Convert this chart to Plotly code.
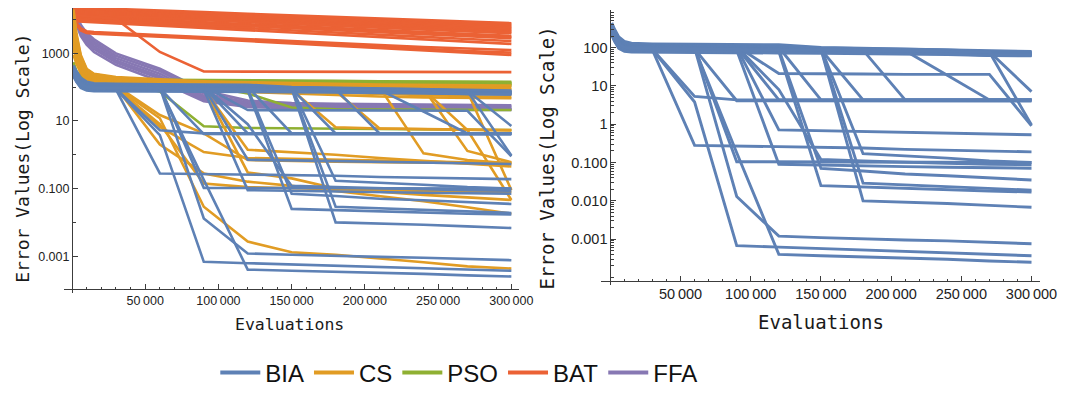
import plotly.graph_objects as go

# ---------------- data ----------------
EVALS = [1000, 3000, 6000, 10000, 15000, 30000, 60000, 90000, 120000,
         150000, 180000, 210000, 240000, 270000, 300000]

BIA_RUNS = [
    [440, 300, 190, 145, 130, 125, 122, 120, 118, 100, 95, 92, 88, 80, 79],
    [400, 270, 175, 135, 122, 118, 115, 112, 110, 98, 92, 90, 86, 78, 77],
    [360, 250, 160, 125, 115, 112, 110, 108, 105, 95, 90, 88, 84, 76, 75],
    [330, 230, 150, 118, 110, 108, 105, 103, 100, 92, 88, 85, 82, 74, 73],
    [300, 210, 140, 112, 105, 103, 100, 98, 96, 90, 86, 83, 80, 72, 71],
    [280, 195, 130, 106, 100, 98, 96, 94, 92, 88, 84, 81, 78, 70, 69],
    [260, 180, 122, 100, 95, 93, 91, 90, 88, 85, 82, 79, 76, 68, 67],
    [245, 170, 115, 95, 90, 88, 87, 86, 84, 82, 80, 77, 74, 67, 66],
    [230, 160, 108, 90, 85, 84, 83, 82, 80, 78, 76, 74, 72, 65, 64],
    [220, 150, 100, 85, 80, 79, 78, 77, 76, 75, 73, 71, 69, 63, 62],
    [210, 145, 95, 80, 76, 75, 74, 73, 72, 71, 70, 68, 66, 62, 61],
    [250, 165, 110, 88, 82, 80, 79, 78, 77, 76, 74, 72, 70, 64, 63],
    [300, 200, 130, 105, 98, 90, 5.3, 4.3, 4.3, 4.2, 4.2, 4.2, 4.2, 4.2, 4.2],
    [280, 190, 125, 100, 94, 88, 3.8, 0.00068, 0.00062, 0.00057, 0.00052, 0.00047, 0.00043, 0.0004, 0.00037],
    [270, 185, 120, 98, 92, 86, 0.28, 0.27, 0.26, 0.25, 0.24, 0.22, 0.21, 0.2, 0.19],
    [340, 235, 150, 118, 108, 105, 100, 0.105, 0.104, 0.103, 0.102, 0.101, 0.1, 0.1, 0.1],
    [320, 220, 145, 115, 106, 102, 98, 0.013, 0.0012, 0.0011, 0.001, 0.00095, 0.0009, 0.00083, 0.00076],
    [310, 215, 140, 112, 104, 100, 95, 0.18, 0.0004, 0.00037, 0.00035, 0.00032, 0.0003, 0.00027, 0.00025],
    [290, 200, 135, 108, 100, 96, 92, 4.1, 4.1, 4.1, 4.1, 4.0, 4.0, 4.0, 4.0],
    [380, 260, 170, 130, 118, 115, 112, 108, 21, 21, 20.5, 20, 20, 20, 0.9],
    [360, 245, 160, 125, 114, 112, 108, 105, 8, 0.12, 0.11, 0.1, 0.095, 0.09, 0.087],
    [350, 240, 155, 122, 112, 110, 106, 102, 4.3, 4.3, 4.3, 4.3, 4.3, 4.3, 4.3],
    [330, 228, 148, 118, 110, 106, 103, 100, 0.71, 0.68, 0.65, 0.62, 0.59, 0.56, 0.53],
    [370, 255, 165, 128, 116, 113, 110, 106, 102, 4.3, 4.3, 4.3, 4.3, 4.3, 4.3],
    [290, 200, 130, 105, 97, 95, 93, 91, 89, 0.07, 0.06, 0.05, 0.045, 0.04, 0.035],
    [265, 180, 120, 97, 91, 89, 87, 85, 0.09, 0.085, 0.08, 0.078, 0.075, 0.073, 0.071],
    [255, 175, 115, 94, 88, 86, 84, 82, 80, 0.025, 0.023, 0.021, 0.019, 0.018, 0.017],
    [345, 238, 152, 120, 110, 108, 104, 100, 98, 96, 0.17, 0.15, 0.13, 0.11, 0.1],
    [335, 230, 148, 116, 107, 105, 101, 98, 95, 93, 0.029, 0.026, 0.023, 0.021, 0.019],
    [325, 225, 146, 114, 106, 104, 100, 97, 94, 91, 0.01, 0.0093, 0.0085, 0.0076, 0.0068],
    [315, 218, 142, 112, 104, 102, 98, 95, 92, 89, 4.3, 4.3, 4.3, 4.3, 4.3],
    [305, 210, 138, 110, 102, 100, 97, 94, 91, 88, 86, 4.3, 4.3, 4.3, 4.3],
    [295, 205, 134, 107, 100, 98, 95, 92, 90, 87, 85, 83, 19, 4.3, 4.3],
    [285, 195, 128, 104, 97, 95, 93, 91, 89, 86, 84, 82, 80, 78, 7.1],
    [275, 188, 124, 101, 95, 93, 91, 89, 87, 85, 83, 81, 79, 77, 0.95],
]

CS_RUNS = [
    [20000, 4000, 900, 350, 250, 200, 170, 150, 140, 130, 125, 120, 118, 115, 112],
    [15000, 3000, 700, 300, 220, 180, 150, 135, 125, 118, 112, 108, 104, 100, 97],
    [10000, 2200, 600, 260, 200, 165, 140, 125, 115, 108, 102, 97, 93, 90, 88],
    [7000, 1800, 500, 230, 185, 150, 128, 115, 106, 100, 94, 89, 85, 82, 80],
    [5000, 1400, 420, 210, 170, 140, 118, 105, 97, 90, 85, 80, 76, 73, 70],
    [3000, 1000, 350, 190, 155, 130, 108, 96, 88, 81, 76, 71, 67, 63, 60],
    [1500, 700, 300, 175, 145, 120, 100, 88, 80, 73, 67, 62, 57, 53, 50],
    [900, 500, 260, 165, 140, 115, 95, 82, 72, 65, 58, 53, 50, 48, 47],
    [12000, 2500, 650, 280, 210, 110, 15, 4.3, 0.7, 0.65, 0.62, 0.6, 0.58, 0.56, 0.55],
    [8000, 2000, 550, 250, 190, 105, 6.7, 1.2, 0.8, 0.75, 0.7, 0.66, 0.63, 0.6, 0.58],
    [6000, 1600, 480, 230, 180, 100, 2.0, 0.28, 0.16, 0.12, 0.085, 0.06, 0.042, 0.028, 0.018],
    [4000, 1200, 400, 210, 170, 100, 12, 0.029, 0.0027, 0.0013, 0.0011, 0.00087, 0.00066, 0.0005, 0.00043],
    [2500, 900, 330, 190, 160, 95, 8, 0.14, 0.11, 0.1, 0.095, 0.09, 0.085, 0.082, 0.08],
    [18000, 3500, 800, 330, 240, 190, 160, 140, 125, 115, 108, 100, 1.1, 0.7, 0.55],
    [14000, 2800, 700, 290, 215, 170, 145, 128, 118, 110, 104, 98, 92, 1.3, 0.6],
    [9000, 2000, 550, 250, 190, 150, 130, 115, 105, 98, 93, 88, 85, 5.4, 0.046],
    [7000, 1700, 480, 230, 180, 140, 120, 106, 97, 90, 86, 82, 78, 74, 0.09],
    [5000, 1300, 400, 210, 165, 130, 110, 98, 90, 84, 6.5, 6.0, 5.7, 5.4, 5.2],
    [3500, 1000, 350, 190, 155, 125, 105, 92, 0.3, 0.2, 0.1, 0.08, 0.065, 0.055, 0.046],
    [2200, 800, 300, 180, 150, 120, 100, 90, 1.4, 1.2, 1.0, 0.8, 0.65, 0.55, 0.45],
    [1500, 650, 270, 170, 145, 118, 100, 90, 84, 80, 77, 6.0, 5.8, 5.6, 5.4],
]

PSO_RUNS = [
    [550, 300, 220, 190, 180, 170, 165, 160, 158, 155, 153, 150, 148, 147, 145],
    [500, 280, 210, 182, 172, 162, 157, 152, 150, 147, 145, 143, 141, 140, 138],
    [450, 260, 200, 175, 165, 155, 150, 146, 143, 140, 138, 136, 134, 133, 132],
    [420, 250, 192, 168, 158, 150, 145, 141, 138, 135, 133, 131, 129, 128, 127],
    [400, 240, 185, 162, 152, 144, 139, 135, 132, 130, 128, 126, 124, 123, 122],
    [380, 230, 178, 156, 146, 138, 133, 129, 126, 124, 122, 120, 118, 117, 116],
    [360, 220, 172, 150, 140, 133, 128, 124, 121, 119, 117, 115, 113, 112, 111],
    [400, 240, 185, 160, 150, 140, 75, 7.0, 6.2, 6.0, 5.8, 5.7, 5.6, 5.5, 5.4],
    [380, 230, 178, 155, 145, 135, 125, 110, 65, 25, 22, 21.5, 21, 21, 21],
]

BAT_RUNS = [
    [22900, 22750, 22500, 22200, 21800, 20600, 18500, 16600, 14900, 13400, 12000, 10800, 9700, 8700, 7800],
    [21300, 21200, 21000, 20700, 20300, 19200, 17200, 15400, 13800, 12400, 11100, 9950, 8900, 8000, 7150],
    [19900, 19800, 19600, 19300, 18900, 17900, 16000, 14300, 12800, 11400, 10200, 9100, 8100, 7300, 6500],
    [18900, 18800, 18600, 18300, 18000, 16900, 15100, 13400, 11950, 10650, 9500, 8450, 7550, 6700, 6000],
    [17900, 17800, 17600, 17300, 17000, 16000, 14200, 12600, 11200, 9950, 8840, 7850, 6980, 6190, 5500],
    [16900, 16800, 16600, 16300, 16000, 15000, 13300, 11800, 10450, 9250, 8200, 7250, 6420, 5680, 5050],
    [15900, 15800, 15600, 15400, 15000, 14100, 12500, 11000, 9730, 8580, 7580, 6690, 5900, 5220, 4600],
    [14900, 14800, 14600, 14400, 14050, 13200, 11650, 10250, 9050, 7980, 7040, 6200, 5460, 4820, 4250],
    [13900, 13800, 13650, 13400, 13100, 12300, 10850, 9550, 8400, 7390, 6510, 5730, 5040, 4440, 3900],
    [12450, 12340, 12180, 11960, 11700, 10940, 9580, 8380, 7340, 6430, 5630, 4930, 4310, 3780, 3300],
    [11700, 11600, 11450, 11250, 11000, 10270, 8970, 7830, 6850, 5990, 5230, 4570, 3990, 3490, 3050],
    [10950, 10850, 10700, 10500, 10270, 9590, 8370, 7290, 6370, 5550, 4840, 4220, 3690, 3210, 2800],
    [9950, 9850, 9710, 9520, 9290, 8630, 7450, 6430, 5550, 4800, 4140, 3570, 3080, 2660, 2300],
    [8950, 8860, 8720, 8550, 8330, 7700, 6600, 5640, 4830, 4140, 3540, 3030, 2590, 2220, 1900],
    [12000, 8000, 5500, 4500, 4300, 4000, 3500, 3100, 2700, 2300, 2000, 1750, 1550, 1380, 1250],
    [11000, 7500, 5000, 4200, 4000, 3800, 3300, 2900, 2500, 2100, 1800, 1550, 1350, 1180, 1050],
    [10000, 7000, 4800, 4000, 3800, 3600, 3100, 2700, 2300, 1950, 1650, 1400, 1200, 1040, 900],
    [14000, 13500, 13000, 12500, 12000, 10500, 1100, 290, 288, 286, 284, 282, 280, 279, 278],
]

FFA_RUNS = [
    [22000, 15000, 7000, 4000, 2600, 1000, 350, 80, 40, 34, 32, 31, 30, 29, 29],
    [20000, 13000, 6000, 3400, 2200, 850, 300, 65, 35, 32, 30, 29, 28, 28, 27],
    [18000, 11000, 5200, 2900, 1900, 720, 250, 55, 32, 29, 28, 27, 26, 26, 25],
    [16000, 9500, 4500, 2500, 1600, 620, 210, 48, 30, 27, 26, 25, 24, 24, 23],
    [14000, 8200, 3900, 2100, 1350, 540, 180, 42, 28, 25, 24, 23, 23, 22, 22],
    [12000, 7000, 3300, 1800, 1100, 460, 150, 38, 26, 24, 23, 22, 22, 21, 21],
    [15000, 9000, 4200, 2300, 1450, 580, 200, 45, 29, 26, 25, 24, 23, 23, 22],
]

ALGORITHMS = ["BIA", "CS", "PSO", "BAT", "FFA"]
X_TICKS = [50000, 100000, 150000, 200000, 250000, 300000]
X_TICK_TEXT = ["50\u2009000", "100\u2009000", "150\u2009000", "200\u2009000", "250\u2009000", "300\u2009000"]
Y1_TICKS = [0.001, 0.1, 10, 1000]
Y1_TICK_TEXT = ["0.001", "0.100", "10", "1000"]
Y2_TICKS = [0.001, 0.01, 0.1, 1, 10, 100]
Y2_TICK_TEXT = ["0.001", "0.010", "0.100", "1", "10", "100"]

# ---------------- styling ----------------
COLORS = {"BIA": "#5E81B5", "CS": "#E19C24", "PSO": "#8FB032",
          "BAT": "#EB6235", "FFA": "#8778B3"}
W, H = 1081, 394
OFF = 8  # page body margin offset
AX = "#3c3c3c"


def px(x):
    return (x - OFF) / W


def py(y):
    return min(1.0, (H - (y - OFF)) / H)


fig = go.Figure()


def add_runs(runs, color, xa, ya, width):
    for r in runs:
        fig.add_trace(go.Scatter(x=EVALS, y=r, mode="lines", xaxis=xa, yaxis=ya,
                                 line=dict(color=color, width=width),
                                 showlegend=False, hoverinfo="skip"))


# left panel (draw order: FFA, BAT, PSO, CS, BIA on top)
add_runs(FFA_RUNS, COLORS["FFA"], "x", "y", 2.6)
add_runs(BAT_RUNS, COLORS["BAT"], "x", "y", 2.6)
add_runs(PSO_RUNS, COLORS["PSO"], "x", "y", 2.6)
add_runs(CS_RUNS, COLORS["CS"], "x", "y", 2.6)
add_runs(BIA_RUNS, COLORS["BIA"], "x", "y", 2.6)
# right panel: BIA only
add_runs(BIA_RUNS, COLORS["BIA"], "x2", "y2", 2.9)

# legend entries
for name in ALGORITHMS:
    fig.add_trace(go.Scatter(x=[None], y=[None], mode="lines", name=name,
                             line=dict(color=COLORS[name], width=4)))

minor_x = [v for v in range(10000, 300000, 10000) if v % 50000 != 0]
minor_y1 = [1e-4, 0.01, 1, 100, 10000]
minor_y2 = [m * 10.0 ** k for k in range(-4, 3) for m in range(1, 10)
            if not (m == 1 and k >= -3)]

common_x = dict(showgrid=False, zeroline=False, showline=True, linecolor=AX,
                linewidth=1, ticks="inside", tickcolor=AX, ticklen=5,
                tickmode="array", tickvals=X_TICKS, ticktext=X_TICK_TEXT,
                anchor="free")
common_y = dict(type="log", showgrid=False, zeroline=False, showline=True,
                linecolor=AX, linewidth=1, ticks="inside", tickcolor=AX,
                ticklen=5, tickmode="array", anchor="free")

TITLE_FONT = "DejaVu Sans Mono"

fig.update_layout(
    width=W, height=H,
    margin=dict(l=0, r=0, t=0, b=0),
    paper_bgcolor="white", plot_bgcolor="white",
    showlegend=True,
    xaxis=dict(**common_x, domain=[px(65), px(526.7)], range=[-5380, 304900],
               position=py(289),
               tickfont=dict(family="Liberation Sans", size=12.5, color="#222"),
               minor=dict(tickvals=minor_x, ticks="inside", ticklen=2.5, tickcolor=AX)),
    yaxis=dict(**common_y, domain=[py(293), 1.0], range=[-4.09, 4.342],
               position=px(73), tickvals=Y1_TICKS, ticktext=Y1_TICK_TEXT,
               tickfont=dict(family="Liberation Sans", size=12.5, color="#222"),
               minor=dict(tickvals=minor_y1, ticks="inside", ticklen=3, tickcolor=AX)),
    xaxis2=dict(**common_x, domain=[px(610), px(1056.7)], range=[-7010, 306200],
                position=py(281),
                tickfont=dict(family="Liberation Sans", size=14.5, color="#222"),
                minor=dict(tickvals=minor_x, ticks="inside", ticklen=2.5, tickcolor=AX)),
    yaxis2=dict(**common_y, domain=[py(285), py(10)], range=[-4.196, 2.98],
                position=px(620), tickvals=Y2_TICKS, ticktext=Y2_TICK_TEXT,
                tickfont=dict(family="Liberation Sans", size=14.5, color="#222"),
                minor=dict(tickvals=minor_y2, ticks="inside", ticklen=3, tickcolor=AX)),
    legend=dict(orientation="h", x=px(466), xanchor="center", y=py(373),
                yanchor="middle", font=dict(family="Liberation Sans", size=24, color="#111"),
                bgcolor="rgba(0,0,0,0)", itemwidth=40),
    annotations=[
        dict(text="Error Values(Log Scale)", x=px(22), y=py(158), xref="paper",
             yref="paper", showarrow=False, textangle=-90, xanchor="center", yanchor="middle",
             font=dict(family=TITLE_FONT, size=18, color="#1a1a1a")),
        dict(text="Evaluations", x=px(294), y=py(324), xref="paper", yref="paper",
             showarrow=False, xanchor="center", yanchor="middle",
             font=dict(family=TITLE_FONT, size=16.5, color="#1a1a1a")),
        dict(text="Error Values(Log Scale)", x=px(556), y=py(158), xref="paper",
             yref="paper", showarrow=False, textangle=-90, xanchor="center", yanchor="middle",
             font=dict(family=TITLE_FONT, size=19, color="#1a1a1a")),
        dict(text="Evaluations", x=px(834), y=py(322), xref="paper", yref="paper",
             showarrow=False, xanchor="center", yanchor="middle",
             font=dict(family=TITLE_FONT, size=19, color="#1a1a1a")),
    ],
)

fig.write_html("out.html")
